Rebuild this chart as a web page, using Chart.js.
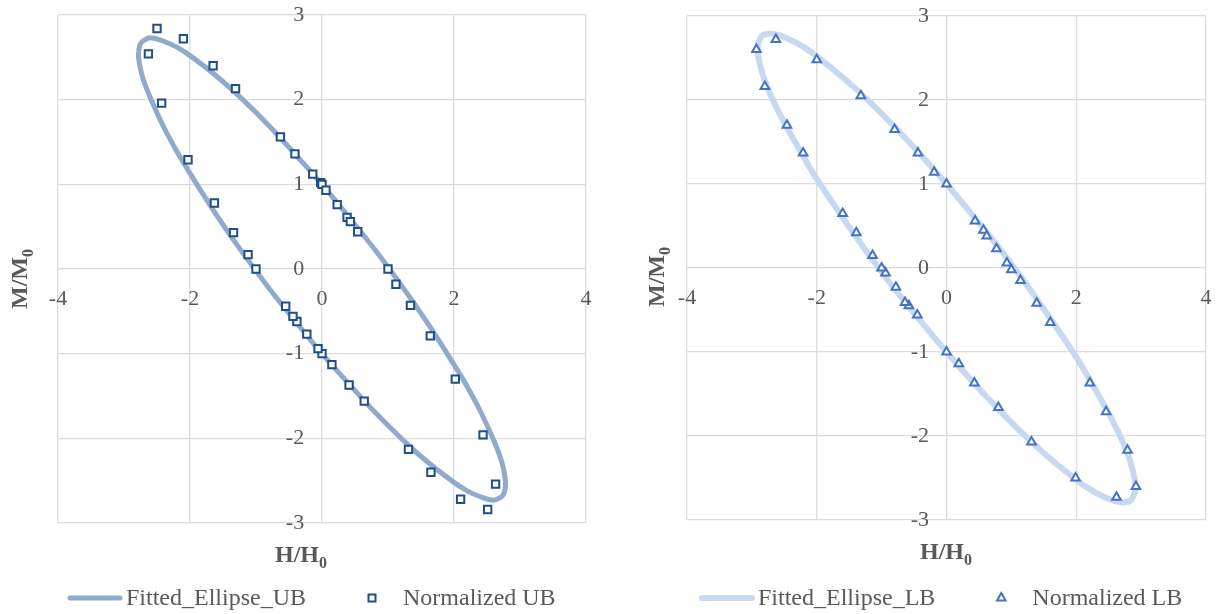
<!DOCTYPE html>
<html>
<head>
<meta charset="utf-8">
<title>Normalized UB / LB with fitted ellipses</title>
<script src="https://cdn.jsdelivr.net/npm/chart.js@4.4.1/dist/chart.umd.min.js"></script>
<style>
  html, body { margin: 0; padding: 0; background: #fff; }
  .wrap { position: absolute; top: 0; height: 614px; }
  #w1 { left: 0; width: 610px; }
  #w2 { left: 610px; width: 609px; }
</style>
</head>
<body>
<div class="wrap" id="w1"><canvas id="chartUB"></canvas></div>
<div class="wrap" id="w2"><canvas id="chartLB"></canvas></div>
<script>
// axis ticks
const hTicks = [-4, -2, 0, 2, 4];
const mTicks = [-3, -2, -1, 0, 1, 2, 3];

// Normalized UB (measured points)
const ubH = [-2.50, -2.10, -1.65, -1.31, -0.63, -0.41, -0.14, -0.02, 0.00, 0.06, 0.23, 0.38, 0.43, 0.54, 1.00, 1.12, 1.34, 1.64, 2.02, 2.44, 2.63,
             2.51, 2.10, 1.65, 1.31, 0.64, 0.41, 0.15, 0.00, -0.06, -0.23, -0.38, -0.44, -0.55, -1.00, -1.12, -1.34, -1.63, -2.03, -2.43, -2.63];
const ubM = [2.84, 2.72, 2.40, 2.13, 1.56, 1.36, 1.12, 1.02, 1.00, 0.93, 0.76, 0.61, 0.56, 0.44, 0.00, -0.18, -0.43, -0.79, -1.30, -1.96, -2.54,
             -2.84, -2.72, -2.40, -2.13, -1.56, -1.37, -1.13, -1.00, -0.94, -0.77, -0.62, -0.56, -0.44, 0.00, 0.17, 0.43, 0.78, 1.29, 1.96, 2.54];

// Fitted_Ellipse_UB
const ubFitH = [-2.78, -2.75, -2.70, -2.60, -2.40, -2.20, -2.00, -1.60, -1.20, -0.80, -0.40, 0.00, 0.40, 0.80, 1.20, 1.60, 2.00,
                2.20, 2.40, 2.60, 2.70, 2.75, 2.78, 2.78, 2.78, 2.75, 2.70, 2.60, 2.40, 2.20, 2.00, 1.60, 1.20, 0.80, 0.40, 0.00,
                -0.40, -0.80, -1.20, -1.60, -2.00, -2.20, -2.40, -2.60, -2.70, -2.75, -2.78, -2.78, -2.78];
const ubFitM = [2.57, 2.66, 2.70, 2.73, 2.69, 2.62, 2.52, 2.28, 2.00, 1.69, 1.35, 1.00, 0.62, 0.23, -0.19, -0.64, -1.13,
                -1.39, -1.68, -2.02, -2.22, -2.36, -2.50, -2.54, -2.57, -2.66, -2.70, -2.73, -2.69, -2.62, -2.52, -2.28, -2.00, -1.69, -1.35, -1.00,
                -0.62, -0.23, 0.19, 0.64, 1.13, 1.39, 1.68, 2.02, 2.22, 2.36, 2.50, 2.54, 2.57];

// Normalized LB (measured points)
const lbH = [-2.63, -2.00, -1.32, -0.80, -0.44, -0.19, 0.00, 0.44, 0.57, 0.62, 0.77, 0.93, 1.00, 1.14, 1.39, 1.60, 2.21, 2.46, 2.79, 2.92,
             2.62, 1.99, 1.31, 0.80, 0.43, 0.19, 0.00, -0.45, -0.58, -0.64, -0.78, -0.94, -1.00, -1.14, -1.39, -1.60, -2.21, -2.46, -2.80, -2.93];
const lbM = [2.72, 2.48, 2.05, 1.65, 1.37, 1.14, 1.00, 0.56, 0.45, 0.38, 0.23, 0.06, -0.02, -0.15, -0.42, -0.65, -1.37, -1.71, -2.17, -2.60,
             -2.73, -2.50, -2.07, -1.66, -1.37, -1.14, -1.00, -0.56, -0.45, -0.41, -0.23, -0.06, 0.00, 0.15, 0.42, 0.65, 1.37, 1.70, 2.16, 2.60];

// Fitted_Ellipse_LB
const lbFitH = [-2.91, -2.90, -2.85, -2.80, -2.70, -2.50, -2.20, -2.00, -1.60, -1.20, -0.80, -0.40, 0.00, 0.40, 0.80, 1.20, 1.60, 2.00,
                2.20, 2.50, 2.70, 2.80, 2.85, 2.90, 2.91, 2.91, 2.91, 2.90, 2.85, 2.80, 2.70, 2.50, 2.20, 2.00, 1.60, 1.20, 0.80, 0.40, 0.00,
                -0.40, -0.80, -1.20, -1.60, -2.00, -2.20, -2.50, -2.70, -2.80, -2.85, -2.90, -2.91, -2.91, -2.91];
const lbFitM = [2.64, 2.68, 2.76, 2.78, 2.79, 2.75, 2.63, 2.52, 2.27, 1.99, 1.68, 1.35, 1.00, 0.63, 0.25, -0.16, -0.60, -1.06,
                -1.32, -1.73, -2.04, -2.23, -2.35, -2.51, -2.58, -2.61, -2.64, -2.68, -2.76, -2.78, -2.79, -2.75, -2.63, -2.52, -2.27, -1.99, -1.68, -1.35, -1.00,
                -0.63, -0.25, 0.16, 0.60, 1.06, 1.32, 1.73, 2.04, 2.23, 2.35, 2.51, 2.58, 2.61, 2.64];

const TEXT = '#595959';
const GRID = '#DCDCDC';
const SERIF = '"Liberation Serif", "Times New Roman", serif';

function pts(xs, ys) {
    return xs.map((x, i) => ({ x: x, y: ys[i] }));
}

// text with a subscript, centred on (cx, y) baseline
function subText(ctx, main, sub, cx, y) {
    ctx.font = 'bold 24px ' + SERIF;
    const w1 = ctx.measureText(main).width;
    ctx.font = 'bold 16px ' + SERIF;
    const w2 = ctx.measureText(sub).width;
    let x = cx - (w1 + w2) / 2;
    ctx.textAlign = 'left';
    ctx.textBaseline = 'alphabetic';
    ctx.font = 'bold 24px ' + SERIF;
    ctx.fillText(main, x, y);
    ctx.font = 'bold 16px ' + SERIF;
    ctx.fillText(sub, x + w1, y + 6);
}

function marker(ctx, style, color, cx, cy) {
    ctx.save();
    ctx.strokeStyle = color;
    ctx.fillStyle = '#fff';
    ctx.lineWidth = 2;
    ctx.beginPath();
    if (style === 'triangle') {
        ctx.moveTo(cx, cy - 5);
        ctx.lineTo(cx + 4.3, cy + 2.5);
        ctx.lineTo(cx - 4.3, cy + 2.5);
        ctx.closePath();
    } else {
        ctx.rect(cx - 3.5, cy - 3.5, 7, 7);
    }
    ctx.fill();
    ctx.stroke();
    ctx.restore();
}

// axis titles + excel style legend
const frame = {
    id: 'frame',
    afterDraw(chart, args, opts) {
        const ctx = chart.ctx;
        ctx.save();
        ctx.fillStyle = TEXT;
        subText(ctx, 'H/H', '0', opts.xTitle[0], opts.xTitle[1]);
        ctx.save();
        ctx.translate(opts.yTitle[0], opts.yTitle[1]);
        ctx.rotate(-Math.PI / 2);
        subText(ctx, 'M/M', '0', 0, 0);
        ctx.restore();

        // legend
        let x = opts.legend[0];
        const y = opts.legend[1];
        ctx.font = '24px ' + SERIF;
        ctx.textBaseline = 'middle';
        ctx.textAlign = 'left';
        chart.data.datasets.forEach(ds => {
            if (ds.showLine) {
                ctx.save();
                ctx.strokeStyle = ds.borderColor;
                ctx.lineWidth = ds.borderWidth;
                ctx.lineCap = 'round';
                ctx.beginPath();
                ctx.moveTo(x + 3, y);
                ctx.lineTo(x + 53, y);
                ctx.stroke();
                ctx.restore();
            } else {
                marker(ctx, ds.pointStyle, ds.borderColor, x + 28, y);
            }
            ctx.fillStyle = TEXT;
            ctx.fillText(ds.label, x + 59, y + 1);
            x += 59 + ctx.measureText(ds.label).width + 38;
        });
        ctx.restore();
    }
};

function makeChart(id, fitLabel, fitH, fitM, fitColor, fitWidth, ptLabel, ptH, ptM, ptStyle, ptColor, ptRadius, pad, frameOpts) {
    return new Chart(document.getElementById(id), {
        type: 'scatter',
        data: {
            datasets: [
                {
                    label: fitLabel,
                    data: pts(fitH, fitM),
                    showLine: true,
                    borderColor: fitColor,
                    borderWidth: fitWidth,
                    pointRadius: 0,
                    tension: 0.4,
                    fill: false,
                    order: 2
                },
                {
                    label: ptLabel,
                    data: pts(ptH, ptM),
                    showLine: false,
                    pointStyle: ptStyle,
                    pointRadius: ptRadius,
                    pointBorderWidth: 2,
                    borderColor: ptColor,
                    backgroundColor: '#ffffff',
                    order: 1
                }
            ]
        },
        options: {
            responsive: true,
            maintainAspectRatio: false,
            animation: false,
            events: [],
            layout: { padding: pad },
            plugins: {
                legend: { display: false },
                tooltip: { enabled: false },
                frame: frameOpts
            },
            scales: {
                // axes cross at the origin; labels sit just below / left of the crossing lines
                x: {
                    type: 'linear',
                    min: hTicks[0],
                    max: hTicks[hTicks.length - 1],
                    position: { y: -0.2 },
                    afterBuildTicks: s => { s.ticks = hTicks.map(v => ({ value: v })); },
                    ticks: { color: TEXT, font: { family: SERIF, size: 22 }, padding: 0, maxRotation: 0, autoSkip: false },
                    grid: { color: GRID, lineWidth: 1.3, drawTicks: false },
                    border: { display: false }
                },
                y: {
                    type: 'linear',
                    min: mTicks[0],
                    max: mTicks[mTicks.length - 1],
                    position: { x: -0.27 },
                    afterBuildTicks: s => { s.ticks = mTicks.map(v => ({ value: v })); },
                    ticks: { color: TEXT, font: { family: SERIF, size: 22 }, padding: 0, autoSkip: false },
                    grid: { color: GRID, lineWidth: 1.3, drawTicks: false },
                    border: { display: false }
                }
            }
        },
        plugins: [frame]
    });
}

makeChart('chartUB', 'Fitted_Ellipse_UB', ubFitH, ubFitM, '#8FAACB', 5,
          'Normalized UB', ubH, ubM, 'rect', '#1F4E8C', 5.2,
          { left: 58, right: 24, top: 15, bottom: 91 },
          { xTitle: [301, 562], yTitle: [27, 279], legend: [67, 598] });

makeChart('chartLB', 'Fitted_Ellipse_LB', lbFitH, lbFitM, '#C6D9F0', 6,
          'Normalized LB', lbH, lbM, 'triangle', '#4472C4', 5,
          { left: 77, right: 13, top: 16, bottom: 94 },
          { xTitle: [336, 559], yTitle: [54, 277], legend: [89, 598] });
</script>
</body>
</html>
